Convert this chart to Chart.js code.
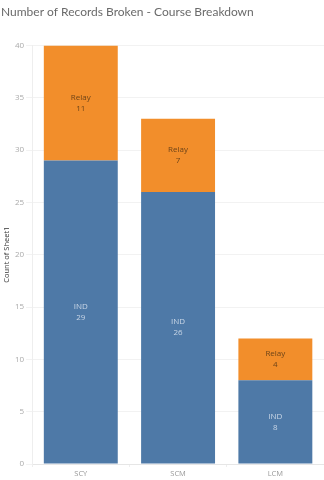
<!DOCTYPE html>
<html>
<head>
<meta charset="utf-8">
<script src="https://cdn.jsdelivr.net/npm/chart.js@4"></script>
<style>
  html, body { margin: 0; padding: 0; background: #fff; }
  #wrap { width: 324px; height: 480px; }
</style>
</head>
<body>
<div id="wrap"><canvas id="chart" width="324" height="480"></canvas></div>
<script>
// Course types and records broken per type
const courses = ['SCY', 'SCM', 'LCM'];
const indRecords = [29, 26, 8];
const relayRecords = [11, 7, 4];
const yTicks = [0, 5, 10, 15, 20, 25, 30, 35, 40];

const FONT = "'Open Sans', 'Noto Sans', sans-serif";
const TITLE_FONT = "Lato, 'Open Sans', sans-serif";

// Writes "<series>\n<value>" in the middle of every bar segment
const segmentLabels = {
  id: 'segmentLabels',
  afterDatasetsDraw(chart) {
    const ctx = chart.ctx;
    ctx.save();
    ctx.font = '8px ' + FONT;
    ctx.textAlign = 'center';
    ctx.textBaseline = 'middle';
    chart.data.datasets.forEach((ds, di) => {
      const meta = chart.getDatasetMeta(di);
      meta.data.forEach((bar, i) => {
        const cy = (bar.y + bar.base) / 2;
        ctx.fillStyle = ds.labelColor;
        ctx.fillText(ds.label, bar.x, cy - 5.5);
        ctx.fillText(String(ds.data[i]), bar.x, cy + 5.5);
      });
    });
    ctx.restore();
  }
};

new Chart(document.getElementById('chart'), {
  type: 'bar',
  data: {
    labels: courses,
    datasets: [
      {
        label: 'IND',
        data: indRecords,
        backgroundColor: '#4e79a7',
        borderWidth: 0,
        labelColor: '#c9d6e6',
        categoryPercentage: 0.76,
        barPercentage: 1.0
      },
      {
        label: 'Relay',
        data: relayRecords,
        backgroundColor: '#f28e2b',
        borderWidth: 0,
        labelColor: '#6e4418',
        categoryPercentage: 0.76,
        barPercentage: 1.0
      }
    ]
  },
  options: {
    responsive: false,
    animation: false,
    devicePixelRatio: 1,
    layout: { padding: { left: 1, right: 0, top: 0, bottom: 0 } },
    plugins: {
      legend: { display: false },
      tooltip: { enabled: false },
      title: {
        display: true,
        text: 'Number of Records Broken - Course Breakdown',
        align: 'start',
        color: '#6a6a6a',
        font: { family: TITLE_FONT, size: 12, weight: 'normal' },
        padding: { top: 5, bottom: 26 }
      }
    },
    scales: {
      x: {
        stacked: true,
        grid: { display: true, drawOnChartArea: false, tickLength: 3, color: '#eee', offset: true },
        border: { display: true, color: '#e6e6e6' },
        ticks: { color: '#999', font: { family: FONT, size: 7.5 }, padding: 2 }
      },
      y: {
        stacked: true,
        min: 0,
        max: 40,
        afterBuildTicks(axis) { axis.ticks = yTicks.map(v => ({ value: v })); },
        grid: { color: '#f2f2f2', tickLength: 6, drawTicks: true },
        border: { display: true, color: '#eeeeee' },
        ticks: { color: '#aaa', font: { family: FONT, size: 8 }, padding: 2 },
        title: {
          display: true,
          text: 'Count of Sheet1',
          color: '#333',
          font: { family: FONT, size: 7.5 },
          padding: { top: 1, bottom: 2 }
        }
      }
    }
  },
  plugins: [segmentLabels]
});
</script>
</body>
</html>
